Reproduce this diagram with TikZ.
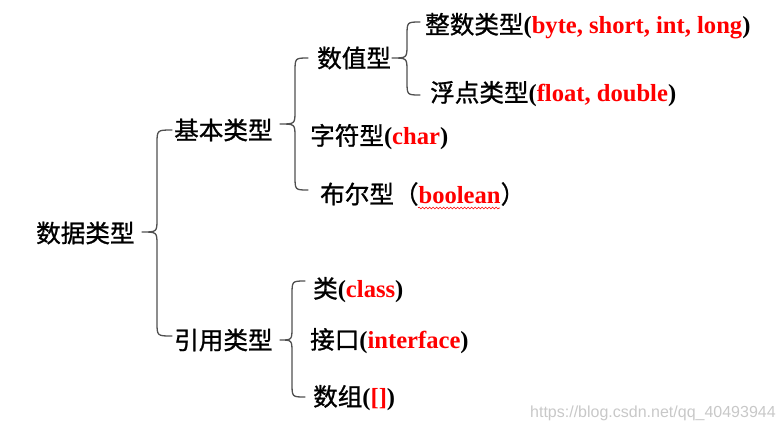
\documentclass[tikz,border=0pt]{standalone}
\usepackage{fontspec}
\setmainfont{Liberation Serif}
\setsansfont{Liberation Sans}
\newfontfamily\cjk[FakeBold=1]{Noto Sans CJK SC}
\usetikzlibrary{decorations.pathmorphing}
\definecolor{brgray}{HTML}{505050}
\definecolor{wmgray}{HTML}{C8C8C8}
\tikzset{
  lbl/.style={anchor=west, inner sep=0pt, font=\fontsize{24.6}{28}\selectfont},
  brc/.style={draw=brgray, line width=1.3pt, line cap=round, line join=round},
}
% tipx tipy vx top bot endx
\newcommand\mybrace[6]{%
  \draw[brc] (#6,#4) .. controls (#3,#4) .. (#3,#4+14) -- (#3,#2-13)
    .. controls (#3,#2) .. (#1,#2) .. controls (#3,#2) .. (#3,#2+13)
    -- (#3,#5-14) .. controls (#3,#5) .. (#6,#5);}
\begin{document}
\begin{tikzpicture}[x=1pt,y=-1pt]
\useasboundingbox (0,0) rectangle (784,432);
\node[lbl] (root) at (36,233) {\cjk 数据类型};
\node[lbl] (jb) at (174,130) {\cjk 基本类型};
\node[lbl] (yy) at (174,340) {\cjk 引用类型};
\node[lbl] (sz) at (317,58) {\cjk 数值型};
\node[lbl] (zs) at (425,26) {{\cjk 整数类型}\textbf{(\textcolor{red}{byte, short, int, long})}};
\node[lbl] (fd) at (430,94) {{\cjk 浮点类型}\textbf{(\textcolor{red}{float, double})}};
\node[lbl] (zf) at (310,137) {{\cjk 字符型}\textbf{(\textcolor{red}{char})}};
\node[lbl] (be) at (320,194) {{\cjk 布尔型（}\textbf{\textcolor{red}{boolean}}{\cjk ）}};
\node[lbl] (cls) at (313,290) {{\cjk 类}\textbf{(\textcolor{red}{class})}};
\node[lbl] (itf) at (310,341) {{\cjk 接口}\textbf{(\textcolor{red}{interface})}};
\node[lbl] (arr) at (313,398) {{\cjk 数组}\textbf{(\textcolor{red}{[]})}};
\node[anchor=west, inner sep=0pt, text=wmgray, font=\sffamily\fontsize{16}{18}\selectfont] (wm) at (530,413) {https://blog.csdn.net/qq\_40493944};
\mybrace{142}{232}{157}{130}{336}{172}
\mybrace{280}{124}{295}{58}{190}{308}
\mybrace{392}{58}{407}{22}{95}{420}
\mybrace{280}{340}{292}{281}{397}{305}
\draw[red, line width=0.6pt, decorate, decoration={snake, amplitude=0.9pt, segment length=3.5pt}] (418,208) -- (500,208);
\end{tikzpicture}
\end{document}
